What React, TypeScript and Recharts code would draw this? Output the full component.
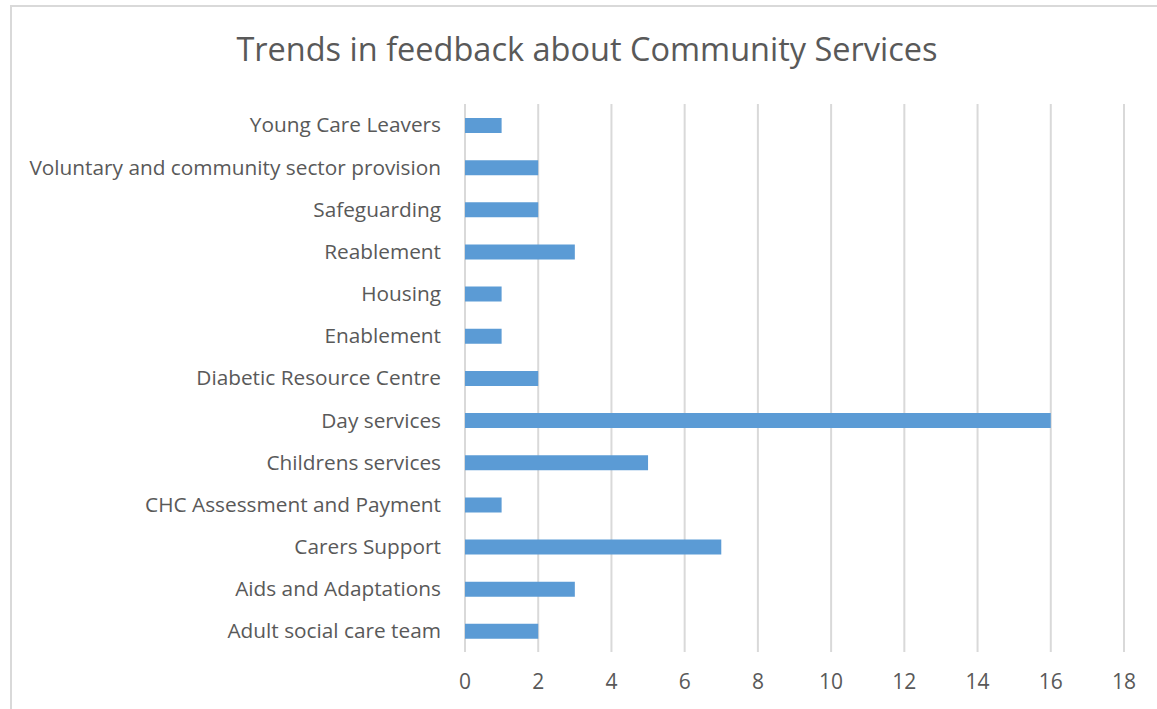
import { Bar, BarChart, CartesianGrid, XAxis, YAxis } from 'recharts';

// Services, top to bottom as drawn
const services = [
  'Young Care Leavers',
  'Voluntary and community sector provision',
  'Safeguarding',
  'Reablement',
  'Housing',
  'Enablement',
  'Diabetic Resource Centre',
  'Day services',
  'Childrens services',
  'CHC Assessment and Payment',
  'Carers Support',
  'Aids and Adaptations',
  'Adult social care team',
];

const feedbackCounts = [1, 2, 2, 3, 1, 1, 2, 16, 5, 1, 7, 3, 2];

const xTicks = [0, 2, 4, 6, 8, 10, 12, 14, 16, 18];

const TEXT_GREY = '#595959';
const GRID_GREY = '#d9d9d9';
const BAR_BLUE = '#5b9bd5';
const FONT = '"Open Sans", "Noto Sans", sans-serif';

const rows = services.map((name, i) => ({ name, count: feedbackCounts[i] }));

export default function App() {
  return (
    <div
      style={{
        position: 'fixed',
        left: 0,
        top: 0,
        width: 1157,
        height: 709,
        overflow: 'hidden',
        background: '#fff',
        fontFamily: FONT,
      }}
    >
      {/* chart frame, right/bottom edges fall outside the picture */}
      <div
        style={{
          position: 'absolute',
          left: 10,
          top: 5,
          width: 1200,
          height: 800,
          border: `2px solid ${GRID_GREY}`,
          boxSizing: 'border-box',
        }}
      />
      <div
        style={{
          position: 'absolute',
          left: 0,
          top: 26,
          width: 1174,
          textAlign: 'center',
          fontSize: 32.5,
          lineHeight: '46px',
          color: TEXT_GREY,
        }}
      >
        Trends in feedback about Community Services
      </div>
      <div style={{ position: 'absolute', left: 0, top: 0 }}>
        <BarChart
          width={1157}
          height={709}
          layout="vertical"
          data={rows}
          margin={{ top: 104, right: 33, bottom: 17, left: 0 }}
          barSize={15}
        >
          <CartesianGrid horizontal={false} stroke={GRID_GREY} strokeWidth={2} />
          <XAxis
            type="number"
            domain={[0, 18]}
            ticks={xTicks}
            axisLine={false}
            tickLine={false}
            tickSize={0}
            tickMargin={22}
            height={40}
            tick={{ fill: TEXT_GREY, fontSize: 21, fontFamily: FONT }}
          />
          <YAxis
            type="category"
            dataKey="name"
            width={465}
            axisLine={false}
            tickLine={false}
            tickSize={0}
            tickMargin={24}
            interval={0}
            tick={{ fill: TEXT_GREY, fontSize: 20.8, fontFamily: FONT }}
          />
          <Bar dataKey="count" fill={BAR_BLUE} isAnimationActive={false} />
        </BarChart>
      </div>
    </div>
  );
}
